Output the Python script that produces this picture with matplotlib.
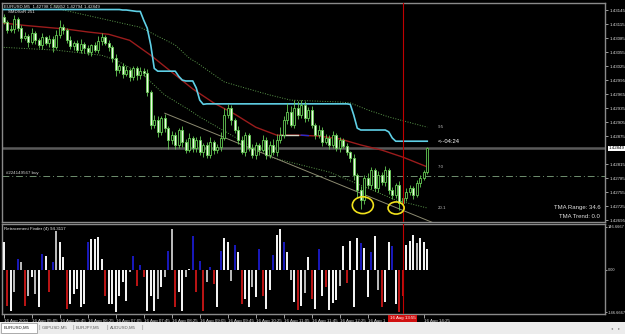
import matplotlib
matplotlib.use('Agg')
import matplotlib.pyplot as plt
import matplotlib.transforms as mtrans
from matplotlib.patches import Ellipse, Rectangle
import numpy as np

plt.rcParams['font.family'] = ['Liberation Sans', 'DejaVu Sans']

# ---------------- data ----------------
symbol = "EURUSD,M5"
first_open = 1.43130
closes = [1.43119, 1.43102, 1.43104, 1.43125, 1.43106,
          1.43085, 1.43089, 1.43076, 1.43095, 1.43080, 1.43070, 1.43087, 1.43074, 1.43083, 1.43065,
          1.43091, 1.43108, 1.43102,
          1.43080, 1.43068, 1.43074, 1.43059, 1.43072, 1.43063, 1.43055, 1.43070, 1.43059, 1.43078, 1.43087, 1.43074, 1.43065,
          1.43042, 1.43016,
          1.43025, 1.43008, 1.43016, 1.43001, 1.43020, 1.43005, 1.43014, 1.43010,
          1.42969,
          1.42899,
          1.42909, 1.42884, 1.42913, 1.42892, 1.42866, 1.42877, 1.42856, 1.42888, 1.42862, 1.42845, 1.42871,
          1.42849, 1.42866, 1.42841, 1.42856, 1.42834, 1.42862, 1.42845, 1.42851, 1.42871,
          1.42920, 1.42935, 1.42909, 1.42888,
          1.42866, 1.42841, 1.42877, 1.42849, 1.42834, 1.42856,
          1.42845, 1.42866, 1.42834, 1.42856, 1.42841, 1.42866, 1.42877,
          1.42909, 1.42926, 1.42899, 1.42935, 1.42920, 1.42941, 1.42913, 1.42931,
          1.42899, 1.42877,
          1.42888, 1.42862, 1.42871, 1.42856, 1.42877, 1.42849, 1.42866, 1.42854,
          1.42841, 1.42828,
          1.42792, 1.42759, 1.42738,
          1.42785, 1.42770, 1.42802, 1.42764, 1.42792, 1.42777, 1.42802, 1.42759,
          1.42749, 1.42770, 1.42732, 1.42742,
          1.42755, 1.42764, 1.42749, 1.42774, 1.42785,
          1.42798, 1.42849]

# wick lengths in pips
up_wick = [0.6, 0.4, 0.8, 1.0, 0.5, 0.7, 0.9, 0.4, 1.1, 0.6,
           0.5, 0.8, 0.3, 0.9, 0.6, 1.2, 1.6, 0.7, 0.5, 0.9,
           0.4, 0.6, 1.0, 0.5, 0.8, 0.3, 0.7, 1.2, 0.9, 0.5,
           0.6, 0.4, 0.8, 0.5, 0.7, 0.9, 0.4, 0.6, 0.5, 0.8,
           0.7, 0.9, 0.5, 1.2, 0.8, 0.6, 1.0, 0.5, 0.9, 0.7,
           0.4, 0.8, 0.6, 1.1, 0.5, 0.7, 0.9, 0.4, 0.6, 1.0,
           0.5, 0.8, 1.3, 1.6, 0.9, 0.7, 0.5, 0.8, 1.0, 0.6,
           0.4, 0.9, 0.7, 0.5, 1.1, 0.6, 0.8, 1.2, 1.4, 1.8,
           1.0, 2.0, 1.3, 1.7, 1.5, 1.1, 0.9, 0.6, 0.8, 0.5,
           1.0, 0.7, 0.9, 0.6, 0.8, 0.5, 0.7, 0.4, 0.6, 0.3,
           0.8, 0.5, 0.9, 0.6, 1.0, 0.7, 0.5, 0.8, 0.6, 0.9,
           0.4, 0.7, 0.5, 0.8, 0.6, 0.9, 0.7, 0.5, 0.8, 0.6,
           0.4, 0.3]
down_wick = [0.5, 0.7, 0.4, 0.9, 0.6, 0.8, 0.5, 1.0, 0.4, 0.7,
             0.6, 0.9, 0.5, 0.8, 1.1, 0.4, 0.6, 0.8, 0.5, 0.7,
             0.9, 0.5, 0.7, 1.0, 0.6, 0.8, 0.4, 0.6, 0.9, 0.5,
             0.7, 0.8, 1.2, 0.6, 0.9, 0.5, 0.8, 0.6, 1.0, 0.7,
             0.6, 0.8, 0.9, 0.7, 1.0, 0.6, 0.8, 1.8, 0.7, 0.9,
             0.6, 1.0, 0.7, 0.5, 0.9, 0.8, 0.6, 1.0, 0.7, 0.5,
             0.8, 0.6, 0.9, 0.5, 0.7, 1.0, 0.6, 0.8, 0.5, 0.9,
             0.7, 0.6, 0.8, 1.0, 0.5, 0.9, 0.7, 0.6, 0.8, 0.5,
             0.6, 0.8, 0.5, 0.7, 0.9, 0.6, 0.8, 0.5, 0.7, 0.9,
             0.6, 0.8, 0.5, 0.9, 0.7, 0.6, 0.8, 0.5, 0.7, 0.9,
             1.2, 1.6, 2.0, 0.8, 0.6, 0.9, 0.7, 0.8, 0.6, 0.9,
             0.7, 0.8, 0.6, 1.6, 0.9, 0.7, 0.6, 0.8, 0.5, 0.7,
             0.5, 0.4]
PIP = 0.0001

# cyan trailing-stop line (one value per bar)
cyan_line = ([1.43146] * 34 + [1.43145, 1.43145, 1.43144, 1.43143, 1.43142, 1.43142]
             + [1.43123, 1.43106, 1.43070, 1.43020] + [1.43014] * 6
             + [1.43003, 1.42995] + [1.42993] * 3 + [1.42978, 1.42952, 1.42943]
             + [1.42944] * 41 + [1.42943, 1.42920, 1.42892] + [1.42888] * 8
             + [1.42884, 1.42871] + [1.42864] * 10)

# red moving average (vertices)
ma_bars = [0, 6, 12, 18, 24, 30, 36, 42, 48, 54, 60, 66, 72, 78, 84, 90, 96, 102, 108, 114, 121]
ma_vals = [1.43117, 1.43112, 1.43108, 1.43104, 1.43098, 1.43093, 1.43080, 1.43048, 1.43012, 1.42976,
           1.42946, 1.42922, 1.42894, 1.42877, 1.42877, 1.42875, 1.42869, 1.42856, 1.42845, 1.42830, 1.42809]
ma_flat_bars = [79, 84]
ma_flat_vals = [1.42877, 1.42877]
ma_blue_bars = [85, 87]
ma_blue_vals = [1.42877, 1.42876]

# dotted TMA bands (vertices)
upper_bars = [11, 17, 39, 49, 53, 55, 63, 68, 76, 82, 96, 99, 104, 110, 121]
upper_vals = [1.43166, 1.43145, 1.43108, 1.43070, 1.43042, 1.43033, 1.42991, 1.42980, 1.42963,
              1.42952, 1.42948, 1.42946, 1.42931, 1.42916, 1.42894]
lower_bars = [0, 15, 28, 32, 40, 46, 53, 56, 76, 93, 112, 121]
lower_vals = [1.43065, 1.43059, 1.43048, 1.43038, 1.43005, 1.42963, 1.42931, 1.42916,
              1.42830, 1.42798, 1.42738, 1.42721]

# hand-drawn trend line
trend_bars = [46, 122.5]
trend_vals = [1.42924, 1.42690]

order_price = 1.42789
order_label = "#224149567 buy"
vline_bar = 114
vline_label = "16 Aug 13:55"

price_ticks = [1.43145, 1.43115, 1.43085, 1.43055, 1.43025, 1.42995, 1.42965, 1.42935,
               1.42905, 1.42875, 1.42815, 1.42785, 1.42755, 1.42725, 1.42695]

# the 13:45 label sits under the red crosshair label in the reference
time_tick_bars = [0, 8, 16, 24, 32, 40, 48, 56, 64, 72, 80, 88, 96, 104, 120]
time_tick_labels = ["16 Aug 2011", "16 Aug 05:05", "16 Aug 05:45", "16 Aug 06:25", "16 Aug 07:05",
                    "16 Aug 07:45", "16 Aug 08:25", "16 Aug 09:05", "16 Aug 09:45", "16 Aug 10:25",
                    "16 Aug 11:05", "16 Aug 11:45", "16 Aug 12:25", "16 Aug 1", "16 Aug 14:25"]

hist_vals = [94, -124, -141, -78, 37, 25, -124, -90, -26, -84,
             -130, 54, 48, -78, 25, 134, 94, 43, -136, -118,
             -84, -67, -130, -118, 94, 106, 106, 111, 37, -90,
             -118, -118, -146, -90, -44, -107, -9, 46, -57, 16,
             -24, -141, -90, -141, -101, -61, -26, 65, 140, -130,
             -78, -141, -26, 2, 117, -78, 31, -141, -44, 8,
             -49, -130, 65, 110, 95, -40, 85, 60, -120, -100,
             -130, -60, -95, 70, -90, -135, -70, 50, 120, 140,
             95, 60, -35, -110, -140, -125, -80, 45, -100, -135,
             70, -90, -60, -140, -115, -105, -55, 80, -45, 100,
             -130, 110, 90, 75, -95, 60, 115, -70, -130, -110,
             95, 80, -120, -146, -90, 85, 100, 120, 90, 110,
             95, 70]
hist_cols = list("WRWGBGRGWG" "WBWRBGWWRW" "WWWWBWWWWR" "WWWWWWGBRB" "RWWWGWGBGR"
                 "WWGWBRBRGB" "RWBWWGBWRW" "WGWBRWWBWW" "BWGWRWGWRW" "BWRWWWGWRW"
                 "WWBWWBWGRW" "WBWRRWWWGW" "WW")
hist_ticks = [146.6667, 0.0, -146.6667]
hist_tick_labels = ["146.6667", "0.00", "-146.6667"]

tabs = ["EURUSD,M5", "GBPUSD,M5", "EURJPY,M5", "AUDUSD,M5"]

assert len(closes) == len(up_wick) == len(down_wick) == len(cyan_line) == len(hist_vals) == len(hist_cols) == 122

# ---------------- figure ----------------
W, H = 625, 334
fig = plt.figure(figsize=(W / 100, H / 100), dpi=100, facecolor='black')

def fx(px):
    return px / W

def fy(py):
    return 1 - py / H

GREEN = '#66cc55'
SPINE = '#8a8a8a'
TXT = 3.2

ax = fig.add_axes([fx(2), fy(222), 603 / W, (222 - 3) / H], facecolor='black')
ai = fig.add_axes([fx(2), fy(314), 603 / W, (314 - 224) / H], facecolor='black')

xmax = -0.5 + 603 / 3.5
for a in (ax, ai):
    a.set_xlim(-0.5, xmax)
    for s in a.spines.values():
        s.set_color(SPINE)
        s.set_linewidth(1.0)
ax.set_ylim(1.42691, 1.43160)
ai.set_ylim(-153, 157)

n = len(closes)
x = np.arange(n)
c = np.array(closes)
o = np.array([first_open] + closes[:-1])
hi = np.maximum(o, c) + np.array(up_wick) * PIP
lo = np.minimum(o, c) - np.array(down_wick) * PIP
bull = c >= o

# bands, lines
ax.plot(upper_bars, upper_vals, color='#5c9a4c', lw=0.7, ls=(0, (1, 1.6)), zorder=2)
ax.plot(lower_bars, lower_vals, color='#5c9a4c', lw=0.7, ls=(0, (1, 1.6)), zorder=2)
ax.plot(trend_bars, trend_vals, color='#8c8a70', lw=0.7, zorder=2)
ax.plot(ma_bars, ma_vals, color='#9a1c1c', lw=1.0, zorder=3)
ax.plot(ma_flat_bars, ma_flat_vals, color='#d8d8c8', lw=1.0, zorder=3)
ax.plot(ma_blue_bars, ma_blue_vals, color='#2a2ad0', lw=1.0, zorder=3)
ax.plot(x, cyan_line, color='#5fd0e6', lw=1.2, zorder=3)

ax.axhline(closes[-1], color='#5a5a5a', lw=1.8, zorder=1)
ax.axhline(order_price, color='#6f8f6f', lw=0.7, ls=(0, (7, 3, 1, 3)), zorder=1)
ax.text(0.5, order_price + 0.00002, order_label, color='#d0d0d0', fontsize=TXT, va='bottom', ha='left')

# candles
ax.vlines(x, lo, hi, color=GREEN, lw=0.6, zorder=4)
ax.bar(x[bull], (c - o)[bull], bottom=o[bull], width=0.6, color='black', edgecolor=GREEN, lw=0.6, zorder=5)
ax.bar(x[~bull], (c - o)[~bull], bottom=o[~bull], width=0.6, color='#eefbe6', edgecolor=GREEN, lw=0.6, zorder=5)

# vertical line
for a in (ax, ai):
    a.axvline(vline_bar, color='#c00000', lw=0.8, zorder=6)

# ellipses
ax.add_patch(Ellipse((102.6, 1.42727), 6.0, 0.00036, fill=False, ec='#f2e21c', lw=1.2, zorder=7))
ax.add_patch(Ellipse((112.1, 1.42721), 4.6, 0.00026, fill=False, ec='#f2e21c', lw=1.2, zorder=7))

# right-side labels
tx = 124
ax.text(tx, upper_vals[-1], "9.5", color='#bbbbbb', fontsize=TXT, va='center', ha='left')
ax.text(tx, cyan_line[-1], "<--04:24", color='white', fontsize=4.2, va='center', ha='left')
ax.text(tx, ma_vals[-1], "7.0", color='#bbbbbb', fontsize=TXT, va='center', ha='left')
ax.text(tx, lower_vals[-1], "20.1", color='#bbbbbb', fontsize=TXT, va='center', ha='left')
ax.text(0.992, 0.068, "TMA Range: 34.6", color='#e0e0e0', fontsize=4.3, ha='right', va='center', transform=ax.transAxes)
ax.text(0.992, 0.027, "TMA Trend: 0.0", color='#e0e0e0', fontsize=4.3, ha='right', va='center', transform=ax.transAxes)

# header
hdr = f"{symbol}  {o[-1]:.5f} {hi[-1]:.5f} {lo[-1]:.5f} {c[-1]:.5f}"
ax.text(0.004, 0.986, hdr, color='#e8e8e8', fontsize=TXT, va='center', ha='left', transform=ax.transAxes)
ax.text(0.010, 0.957, "SMDSnR 251", color='#e8e8e8', fontsize=TXT, va='center', ha='left', transform=ax.transAxes)

# main axis ticks
ax.yaxis.tick_right()
ax.set_yticks(price_ticks)
ax.set_yticklabels([f"{v:.5f}" for v in price_ticks])
ax.tick_params(axis='y', colors='#dddddd', labelsize=TXT, length=2, width=0.5, pad=1)
ax.set_xticks([])

# current price label
trans = mtrans.blended_transform_factory(ax.transAxes, ax.transData)
ax.text(1.006, closes[-1], f"{closes[-1]:.5f}", transform=trans, fontsize=TXT, color='black',
        va='center', ha='left', bbox=dict(fc='white', ec='none', pad=0.4), clip_on=False)

# indicator panel
cmap = {'W': '#f2f2f2', 'G': '#b8b8b8', 'B': '#1818b8', 'R': '#b81414'}
ai.bar(x, hist_vals, width=0.45, color=[cmap[k] for k in hist_cols], zorder=3)
ai.text(0.004, 0.944, "Retracement Finder (4) 94.3117", color='#e8e8e8', fontsize=TXT,
        va='center', ha='left', transform=ai.transAxes)
ai.yaxis.tick_right()
ai.set_yticks(hist_ticks)
ai.set_yticklabels(hist_tick_labels)
ai.tick_params(axis='y', colors='#dddddd', labelsize=2.8, length=1.5, width=0.5, pad=0.5)
ai.set_xticks(time_tick_bars)
ai.set_xticklabels(time_tick_labels, ha='left')
ai.tick_params(axis='x', colors='#dddddd', labelsize=TXT, length=3, width=0.5, pad=0.5, direction='out')

# red time label
vx = ai.transData.transform((vline_bar, 0))[0]
fig.text(vx / W, fy(318.5), vline_label, color='white', fontsize=TXT, ha='center', va='center',
         bbox=dict(fc='#d01010', ec='none', pad=1.0), zorder=10)

# tab bar
fig.patches.append(Rectangle((0, 0), 1, 12 / H, transform=fig.transFigure, fc='#ececec', ec='none', zorder=0))
fig.patches.append(Rectangle((fx(1), fy(333)), 36 / W, 10 / H, transform=fig.transFigure,
                             fc='white', ec='#a0a0a0', lw=0.6, zorder=1))
tab_x = [4, 42, 76, 110]
for i, (t, px) in enumerate(zip(tabs, tab_x)):
    fig.text(fx(px), fy(328), t, fontsize=TXT, color='#202020' if i == 0 else '#606060',
             va='center', ha='left')
    if i > 0:
        fig.text(fx(px - 3), fy(328), "|", fontsize=TXT + 1, color='#909090', va='center', ha='center')
fig.text(fx(142), fy(328), "|", fontsize=TXT + 1, color='#909090', va='center', ha='center')
fig.text(fx(612), fy(328), "\u25c2", fontsize=3, color='#808080', va='center', ha='center')
fig.text(fx(619), fy(328), "\u25b8", fontsize=3, color='#808080', va='center', ha='center')

fig.savefig('out.png', dpi=100, facecolor='black')
